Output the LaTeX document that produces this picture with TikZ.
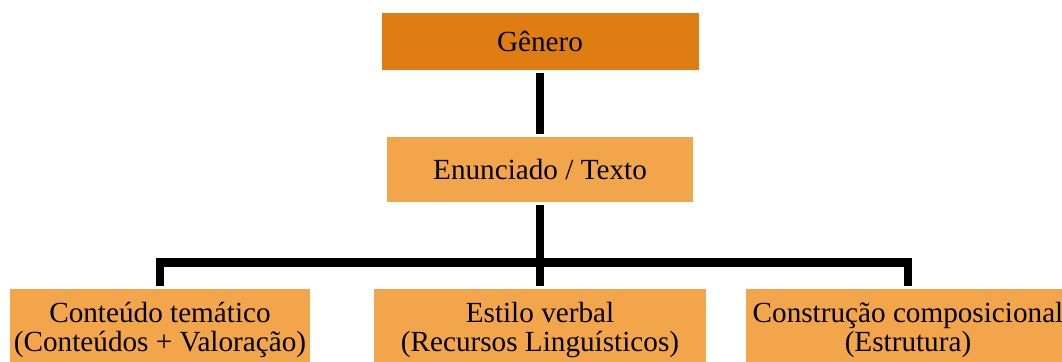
\documentclass[tikz,border=0pt]{standalone}
\usepackage{fontspec}
\setmainfont{Liberation Serif}
\usepackage{tikz}
\definecolor{genorange}{HTML}{DF7D12}
\definecolor{boxorange}{HTML}{F2A54A}
\newcommand{\boxfont}{\fontsize{14.6}{14.5}\selectfont}
\newcommand{\linkw}{4.25pt}

\begin{document}
\begin{tikzpicture}[x=0.5pt, y=0.5pt]
                %\draw[help lines] (0,0) grid (1062,362);
                \tikzset{BoxStyle/.style = {fill=boxorange, inner sep=0pt, outer sep=1.5pt, align=center, font=\boxfont}}
                \tikzset{EdgeStyle/.style = {line width=\linkw, black}}
                \useasboundingbox (0,0) rectangle (1062,362);

                \node[BoxStyle, fill=genorange, minimum width=158.5pt, minimum height=28.5pt] (genero) at (540,320.5) {Gênero};
                \node[BoxStyle, minimum width=153pt, minimum height=32.5pt] (enunciado) at (540,192.5) {Enunciado / Texto};

                \begin{scope}
                    \tikzset{BoxStyle/.append style = {minimum height=41pt}}
                    \node[BoxStyle, minimum width=150pt] (conteudo) at (160,32) {Conteúdo temático\\(Conteúdos + Valoração)};
                    \node[BoxStyle, minimum width=166pt] (estilo) at (540,32) {Estilo verbal\\(Recursos Linguísticos)};
                    \node[BoxStyle, minimum width=162pt] (construcao) at (908,32) {Construção composicional\\(Estrutura)};
                \end{scope}

                \coordinate (bar) at (540,99.5);
                \draw[EdgeStyle] (genero) -- (enunciado);
                \draw[EdgeStyle] (enunciado) -- (estilo);
                \draw[EdgeStyle] (conteudo.north) |- (bar) -| (construcao.north);
\end{tikzpicture}
\end{document}
